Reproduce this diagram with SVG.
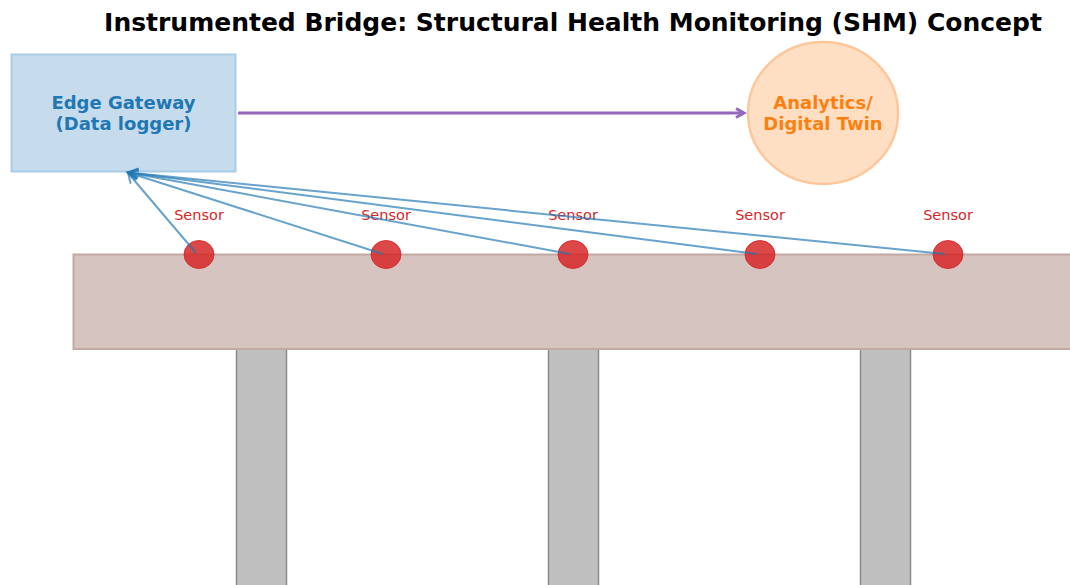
<svg xmlns="http://www.w3.org/2000/svg" width="1070" height="585" viewBox="0 0 1070 585">
<defs>
<style>
text{font-family:"DejaVu Sans","Liberation Sans",sans-serif}
.title{font-size:25px;font-weight:bold;fill:#000}
.nl{font-size:18px;font-weight:bold}
.sl{font-size:14.5px;fill:#d62728}
.pier{fill:#bfbfbf;stroke:#8c8c8c;stroke-width:1.5}
.sensor{fill:#d62728;fill-opacity:0.85;stroke:#d62728;stroke-opacity:0.85;stroke-width:1}
.link{stroke:#1f77b4;stroke-opacity:0.68;stroke-width:2;fill:none}
</style>
<marker id="ab" markerWidth="14" markerHeight="14" refX="12" refY="7" orient="auto" markerUnits="userSpaceOnUse">
<path d="M2,2 L12,7 L2,12" fill="none" stroke="#1f77b4" stroke-opacity="0.68" stroke-width="2"/>
</marker>
<marker id="ap" markerWidth="14" markerHeight="14" refX="11" refY="7" orient="auto" markerUnits="userSpaceOnUse">
<path d="M3,2.5 L11,7 L3,11.5" fill="none" stroke="#9467bd" stroke-width="3"/>
</marker>
</defs>
<rect width="1070" height="585" fill="#fff"/>
<text class="title" x="573" y="31" text-anchor="middle">Instrumented Bridge: Structural Health Monitoring (SHM) Concept</text>
<g id="piers">
<rect class="pier" x="236.5" y="349" width="50" height="240"/>
<rect class="pier" x="548.5" y="349" width="50" height="240"/>
<rect class="pier" x="860.5" y="349" width="50" height="240"/>
</g>
<g id="deck">
<rect x="73.5" y="254.5" width="1010" height="94.5" fill="#d5c4c0" stroke="#c4a8a2" stroke-width="2"/>
</g>
<g id="gateway">
<rect x="11.5" y="54.5" width="224" height="117" fill="#c6dcec" stroke="#a9cbe5" stroke-width="2"/>
<text class="nl" x="123.5" y="109" text-anchor="middle" fill="#1f77b4">Edge Gateway</text>
<text class="nl" x="123.5" y="130" text-anchor="middle" fill="#1f77b4">(Data logger)</text>
</g>
<g id="analytics">
<ellipse cx="823" cy="113" rx="75" ry="71" fill="#ffdfc3" stroke="#ffc799" stroke-width="2.5"/>
<text class="nl" x="823" y="109" text-anchor="middle" fill="#ff7f0e">Analytics/</text>
<text class="nl" x="823" y="130" text-anchor="middle" fill="#ff7f0e">Digital Twin</text>
</g>
<g id="sensors">
<g id="sensor1"><ellipse class="sensor" cx="199" cy="254.5" rx="15" ry="14"/><text class="sl" x="199" y="220" text-anchor="middle">Sensor</text></g>
<g id="sensor2"><ellipse class="sensor" cx="386" cy="254.5" rx="15" ry="14"/><text class="sl" x="386" y="220" text-anchor="middle">Sensor</text></g>
<g id="sensor3"><ellipse class="sensor" cx="573" cy="254.5" rx="15" ry="14"/><text class="sl" x="573" y="220" text-anchor="middle">Sensor</text></g>
<g id="sensor4"><ellipse class="sensor" cx="760" cy="254.5" rx="15" ry="14"/><text class="sl" x="760" y="220" text-anchor="middle">Sensor</text></g>
<g id="sensor5"><ellipse class="sensor" cx="948" cy="254.5" rx="15" ry="14"/><text class="sl" x="948" y="220" text-anchor="middle">Sensor</text></g>
</g>
<g id="connectors">
<line class="link" x1="196" y1="253" x2="128" y2="173" marker-end="url(#ab)"/>
<line class="link" x1="383" y1="254" x2="128" y2="172.5" marker-end="url(#ab)"/>
<line class="link" x1="570" y1="254" x2="128" y2="172.5" marker-end="url(#ab)"/>
<line class="link" x1="757" y1="254" x2="128" y2="172.5" marker-end="url(#ab)"/>
<line class="link" x1="945" y1="254" x2="128" y2="172.5" marker-end="url(#ab)"/>
<line x1="238" y1="113" x2="744" y2="113" stroke="#9467bd" stroke-width="3" marker-end="url(#ap)"/>
</g>
</svg>
